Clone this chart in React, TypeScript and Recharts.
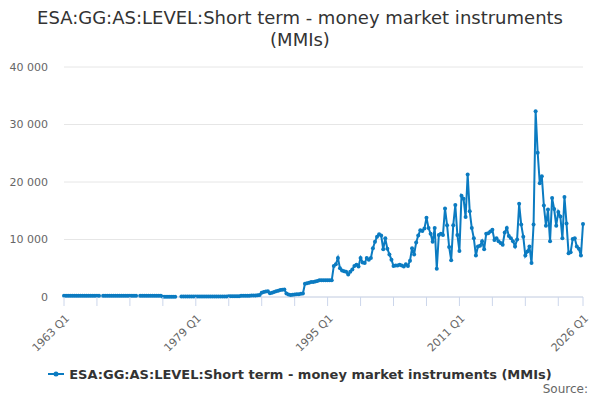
import React from 'react';
import { LineChart, Line, XAxis, YAxis, CartesianGrid } from 'recharts';

const seriesName = 'ESA:GG:AS:LEVEL:Short term - money market instruments (MMIs)';
const lineColor = '#0b7bc1';

const firstYear = 1963;

// quarterly values, 1963 Q1 .. 2026 Q1 (null = no observation)
const mmiValues: (number | null)[] = [
  // 1963-1974
  200, 200, 200, 200, 200, 200, 200, 200, 200, 200, 200, 200,
  200, 200, 200, 200, 200, 200, null, 200, 200, 200, 200, 200,
  200, 200, 200, 200, 200, 200, 200, 200, 200, 200, 200, 200,
  null, 200, 200, 200, 200, 200, 200, 200, 200, 200, 200, 200,
  // 1975-1986
  50, 50, 50, 50, 50, 50, 50, null, null, 80, 80, 80,
  80, 80, 80, 80, 80, 80, 80, 80, 80, 80, 80, 100,
  100, 100, 100, 100, 100, 100, 100, 100, 150, 150, 150, 150,
  150, 150, 200, 200, 200, 200, 200, 250, 250, 250, 300, 350,
  // 1987-1998
  750, 850, 950, 1000, 650, 750, 850, 1000, 1100, 1200, 1250, 1300,
  600, 450, 350, 400, 450, 500, 500, 550, 600, 2300, 2400, 2500,
  2600, 2600, 2700, 2800, 2900, 2900, 2900, 2900, 2900, 2900, 2900, 5400,
  5700, 6800, 5000, 4600, 4500, 4400, 3900, 4400, 4800, 5400, 5600, 5300,
  // 1999-2010
  6800, 6000, 5900, 6800, 6500, 6800, 8500, 9600, 10500, 10900, 10700, 8300,
  10200, 8400, 7400, 6500, 5400, 5500, 5500, 5600, 5500, 5300, 5700, 5400,
  6300, 8500, 7400, 9500, 10700, 11600, 11500, 11900, 13800, 12000, 11000, 9600,
  12000, 4900, 10800, 11000, 10800, 15400, 12500, 8700, 6400, 12500, 16000, 10800,
  // 2011-2022
  8000, 17600, 17100, 13900, 21300, 14900, 12000, 10200, 7200, 8800, 8900, 9700,
  8300, 11000, 11100, 11400, 11700, 9900, 10200, 9700, 9400, 9100, 11200, 12000,
  10600, 10200, 9700, 8800, 10000, 16200, 12600, 10500, 7200, 7900, 8800, 5900,
  12600, 32300, 25100, 19800, 21000, 15900, 12400, 15200, 9700, 17200, 15300, 12400,
  // 2023-2026 Q1
  14800, 14000, 10200, 17400, 12800, 7600, 7800, 10100, 10200, 8800, 8400, 7200,
  12700,
];

const quarters = mmiValues.map((_, i) => `${firstYear + Math.floor(i / 4)} Q${(i % 4) + 1}`);

const labelledTicks = ['1963 Q1', '1979 Q1', '1995 Q1', '2011 Q1', '2026 Q1'];
const minorTicks = quarters.filter((_, i) => i % 16 === 0).concat(quarters[quarters.length - 1]);
const yTicks = [0, 10000, 20000, 30000, 40000];

const rows = quarters.map((q, i) => ({ label: q, value: mmiValues[i] }));

const fmt = (v: number) => String(v).replace(/\B(?=(\d{3})+(?!\d))/g, ' ');

function QuarterTick(props: any) {
  const { x, y, payload } = props;
  const show = labelledTicks.includes(payload.value);
  const tx = x + 6;
  const ty = y + 22;
  return (
    <g>
      <line x1={x} x2={x} y1={y} y2={y + 9} stroke="#ccd6eb" />
      {show && (
        <text
          x={tx}
          y={ty}
          transform={`rotate(-45 ${tx} ${ty})`}
          textAnchor="end"
          fontSize={11}
          fill="#666666"
        >
          {payload.value}
        </text>
      )}
    </g>
  );
}

export default function App() {
  return (
    <div
      style={{
        position: 'fixed',
        left: 0,
        top: 0,
        width: 600,
        height: 400,
        background: '#ffffff',
        fontFamily: '"DejaVu Sans", sans-serif',
      }}
    >
      <LineChart width={600} height={400} data={rows} margin={{ top: 67, right: 17, bottom: 73, left: 0 }}>
        <CartesianGrid vertical={false} stroke="#e6e6e6" />
        <XAxis
          dataKey="label"
          ticks={minorTicks}
          interval={0}
          height={30}
          tickSize={0}
          tickMargin={0}
          tickLine={false}
          axisLine={{ stroke: '#ccd6eb' }}
          tick={<QuarterTick />}
        />
        <YAxis
          width={64}
          domain={[0, 40000]}
          ticks={yTicks}
          tickFormatter={fmt}
          axisLine={false}
          tickLine={false}
          tickSize={0}
          tickMargin={16}
          tick={{ fill: '#666666', fontSize: 11 }}
        />
        <Line
          type="linear"
          dataKey="value"
          stroke={lineColor}
          strokeWidth={2}
          dot={{ r: 2, fill: lineColor, stroke: lineColor, strokeWidth: 0 }}
          activeDot={false}
          connectNulls={false}
          isAnimationActive={false}
        />
      </LineChart>

      <div
        style={{
          position: 'absolute',
          top: 7,
          left: 0,
          width: 600,
          textAlign: 'center',
          fontSize: 18,
          lineHeight: '22px',
          color: '#333333',
        }}
      >
        ESA:GG:AS:LEVEL:Short term - money market instruments
        <br />
        (MMIs)
      </div>

      <div
        style={{
          position: 'absolute',
          top: 365,
          left: 0,
          width: 600,
          height: 18,
          display: 'flex',
          justifyContent: 'center',
          alignItems: 'center',
          fontSize: 13,
          fontWeight: 'bold',
          color: '#333333',
        }}
      >
        <svg width={16} height={12} style={{ marginRight: 5 }}>
          <line x1={0} x2={16} y1={6} y2={6} stroke={lineColor} strokeWidth={2} />
          <circle cx={8} cy={6} r={2.5} fill={lineColor} />
        </svg>
        <span>{seriesName}</span>
      </div>

      <div
        style={{
          position: 'absolute',
          top: 382,
          right: 12,
          fontSize: 12,
          color: '#666666',
        }}
      >
        Source:
      </div>
    </div>
  );
}
